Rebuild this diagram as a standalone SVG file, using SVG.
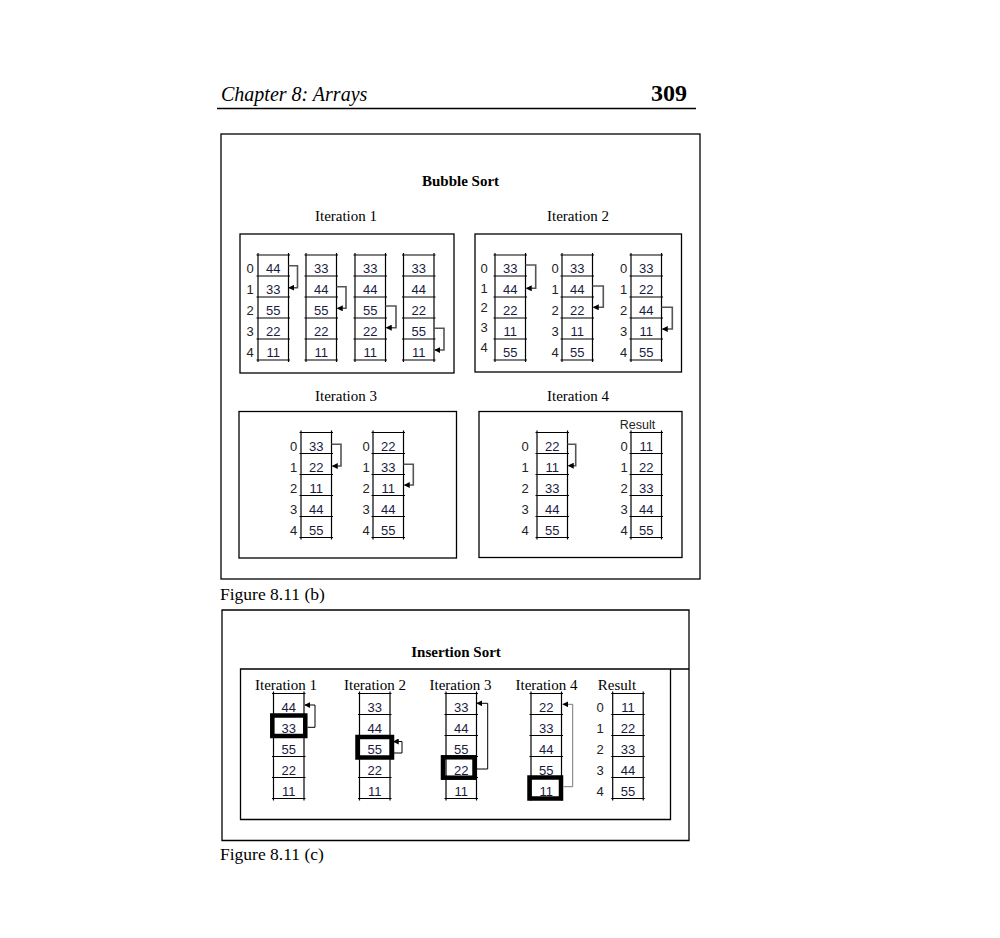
<svg xmlns="http://www.w3.org/2000/svg" xmlns:xlink="http://www.w3.org/1999/xlink" width="1000" height="938" viewBox="0 0 1000 938">
<style>
.box{fill:none;stroke:#000;stroke-width:1.3}
.gl{stroke:#000;stroke-width:1.2}
.v{font-family:"Liberation Sans",Arial,sans-serif;font-size:13px;text-anchor:middle;fill:#1a1a40}
.i{font-family:"Liberation Sans",Arial,sans-serif;font-size:13px;text-anchor:middle;fill:#222}
.t{font-family:"Liberation Serif","Times New Roman",serif;font-size:15px;text-anchor:middle;fill:#000}
.tb{font-family:"Liberation Serif","Times New Roman",serif;font-size:15px;font-weight:bold;text-anchor:middle;fill:#000}
.cap{font-family:"Liberation Serif","Times New Roman",serif;font-size:17.5px;fill:#000}
.arr{fill:none;stroke:#555;stroke-width:1.6;marker-end:url(#ah)}
.arr2{fill:none;stroke:#000;stroke-width:1;marker-end:url(#ah)}
.arr3{fill:none;stroke:#777;stroke-width:1;marker-end:url(#ah)}
.thick{fill:none;stroke:#000;stroke-width:4.5}
</style>
<defs>
<marker id="ah" viewBox="0 0 8 8" refX="7" refY="4" markerWidth="6" markerHeight="6" markerUnits="userSpaceOnUse" orient="auto"><path d="M0,0 L8,4 L0,8 z" fill="#000"/></marker>
<g id="g5" class="gl">
<line x1="0" y1="-2" x2="0" y2="107"/><line x1="30.5" y1="-2" x2="30.5" y2="107"/>
<line x1="-1.5" y1="0" x2="32" y2="0"/><line x1="-1.5" y1="21" x2="32" y2="21"/><line x1="-1.5" y1="42" x2="32" y2="42"/><line x1="-1.5" y1="63" x2="32" y2="63"/><line x1="-1.5" y1="84" x2="32" y2="84"/><line x1="-1.5" y1="105" x2="32" y2="105"/>
</g>
</defs>
<rect width="1000" height="938" fill="#fff"/>

<g id="header">
<text x="221" y="101" style="font-family:'Liberation Serif','Times New Roman',serif;font-size:20px;font-style:italic">Chapter 8: Arrays</text>
<text x="687" y="101" style="font-family:'Liberation Serif','Times New Roman',serif;font-size:24px;font-weight:bold;text-anchor:end">309</text>
<line x1="217" y1="108.5" x2="696" y2="108.5" stroke="#000" stroke-width="1.5"/>
</g>

<g id="bubble-frame">
<rect class="box" x="221" y="134" width="479" height="445"/>
<text class="tb" x="460.5" y="186">Bubble Sort</text>
<text class="t" x="346" y="221">Iteration 1</text>
<text class="t" x="578" y="221">Iteration 2</text>
<text class="t" x="346" y="401">Iteration 3</text>
<text class="t" x="578" y="401">Iteration 4</text>
<rect class="box" x="240" y="234" width="214" height="139"/>
<rect class="box" x="475" y="234" width="206.5" height="138"/>
<rect class="box" x="239" y="411.5" width="217.5" height="146.5"/>
<rect class="box" x="479" y="411.5" width="203" height="146"/>
</g>

<g id="b1a1">
<use href="#g5" x="258" y="255"/>
<text class="i" x="250" y="273">0</text><text class="i" x="250" y="294">1</text><text class="i" x="250" y="315">2</text><text class="i" x="250" y="336">3</text><text class="i" x="250" y="357">4</text>
<text class="v" x="273.2" y="273">44</text><text class="v" x="273.2" y="294">33</text><text class="v" x="273.2" y="315">55</text><text class="v" x="273.2" y="336">22</text><text class="v" x="273.2" y="357">11</text>
</g>
<g id="b1a2">
<use href="#g5" x="306" y="255"/>
<text class="v" x="321.2" y="273">33</text><text class="v" x="321.2" y="294">44</text><text class="v" x="321.2" y="315">55</text><text class="v" x="321.2" y="336">22</text><text class="v" x="321.2" y="357">11</text>
</g>
<g id="b1a3">
<use href="#g5" x="355" y="255"/>
<text class="v" x="370.2" y="273">33</text><text class="v" x="370.2" y="294">44</text><text class="v" x="370.2" y="315">55</text><text class="v" x="370.2" y="336">22</text><text class="v" x="370.2" y="357">11</text>
</g>
<g id="b1a4">
<use href="#g5" x="403.5" y="255"/>
<text class="v" x="418.7" y="273">33</text><text class="v" x="418.7" y="294">44</text><text class="v" x="418.7" y="315">22</text><text class="v" x="418.7" y="336">55</text><text class="v" x="418.7" y="357">11</text>
</g>

<g id="b2a1">
<use href="#g5" x="495" y="255"/>
<text class="i" x="484" y="273">0</text><text class="i" x="484" y="293">1</text><text class="i" x="484" y="312">2</text><text class="i" x="484" y="332">3</text><text class="i" x="484" y="352">4</text>
<text class="v" x="510.2" y="273">33</text><text class="v" x="510.2" y="294">44</text><text class="v" x="510.2" y="315">22</text><text class="v" x="510.2" y="336">11</text><text class="v" x="510.2" y="357">55</text>
</g>
<g id="b2a2">
<use href="#g5" x="562" y="255"/>
<text class="i" x="555" y="273">0</text><text class="i" x="555" y="294">1</text><text class="i" x="555" y="315">2</text><text class="i" x="555" y="336">3</text><text class="i" x="555" y="357">4</text>
<text class="v" x="577.2" y="273">33</text><text class="v" x="577.2" y="294">44</text><text class="v" x="577.2" y="315">22</text><text class="v" x="577.2" y="336">11</text><text class="v" x="577.2" y="357">55</text>
</g>
<g id="b2a3">
<use href="#g5" x="631" y="255"/>
<text class="i" x="623.5" y="273">0</text><text class="i" x="623.5" y="294">1</text><text class="i" x="623.5" y="315">2</text><text class="i" x="623.5" y="336">3</text><text class="i" x="623.5" y="357">4</text>
<text class="v" x="646.2" y="273">33</text><text class="v" x="646.2" y="294">22</text><text class="v" x="646.2" y="315">44</text><text class="v" x="646.2" y="336">11</text><text class="v" x="646.2" y="357">55</text>
</g>

<g id="b3a1">
<use href="#g5" x="301" y="432.5"/>
<text class="i" x="293.5" y="450.5">0</text><text class="i" x="293.5" y="471.5">1</text><text class="i" x="293.5" y="492.5">2</text><text class="i" x="293.5" y="513.5">3</text><text class="i" x="293.5" y="534.5">4</text>
<text class="v" x="316.2" y="450.5">33</text><text class="v" x="316.2" y="471.5">22</text><text class="v" x="316.2" y="492.5">11</text><text class="v" x="316.2" y="513.5">44</text><text class="v" x="316.2" y="534.5">55</text>
</g>
<g id="b3a2">
<use href="#g5" x="373" y="432.5"/>
<text class="i" x="366" y="450.5">0</text><text class="i" x="366" y="471.5">1</text><text class="i" x="366" y="492.5">2</text><text class="i" x="366" y="513.5">3</text><text class="i" x="366" y="534.5">4</text>
<text class="v" x="388.2" y="450.5">22</text><text class="v" x="388.2" y="471.5">33</text><text class="v" x="388.2" y="492.5">11</text><text class="v" x="388.2" y="513.5">44</text><text class="v" x="388.2" y="534.5">55</text>
</g>

<g id="b4a1">
<use href="#g5" x="537" y="432.5"/>
<text class="i" x="525" y="450.5">0</text><text class="i" x="525" y="471.5">1</text><text class="i" x="525" y="492.5">2</text><text class="i" x="525" y="513.5">3</text><text class="i" x="525" y="534.5">4</text>
<text class="v" x="552.2" y="450.5">22</text><text class="v" x="552.2" y="471.5">11</text><text class="v" x="552.2" y="492.5">33</text><text class="v" x="552.2" y="513.5">44</text><text class="v" x="552.2" y="534.5">55</text>
</g>
<g id="b4res">
<text x="637.5" y="428.5" style="font-family:'Liberation Sans',Arial,sans-serif;font-size:12.5px;text-anchor:middle;fill:#222">Result</text>
<use href="#g5" x="631" y="432.5"/>
<text class="i" x="624" y="450.5">0</text><text class="i" x="624" y="471.5">1</text><text class="i" x="624" y="492.5">2</text><text class="i" x="624" y="513.5">3</text><text class="i" x="624" y="534.5">4</text>
<text class="v" x="646.2" y="450.5">11</text><text class="v" x="646.2" y="471.5">22</text><text class="v" x="646.2" y="492.5">33</text><text class="v" x="646.2" y="513.5">44</text><text class="v" x="646.2" y="534.5">55</text>
</g>

<text class="cap" x="220" y="600">Figure 8.11 (b)</text>

<g id="insertion-frame">
<polyline fill="none" stroke="#000" stroke-width="1.3" points="689,798 689,610 222,610 222,840.5 689,840.5 689,798"/>
<text class="tb" x="456" y="657">Insertion Sort</text>
<polyline fill="none" stroke="#000" stroke-width="1.3" points="670.5,669 240.5,669 240.5,819.5 670.5,819.5 670.5,669 689,669"/>
<text class="t" x="286" y="690">Iteration 1</text>
<text class="t" x="375" y="690">Iteration 2</text>
<text class="t" x="460.5" y="690">Iteration 3</text>
<text class="t" x="546.5" y="690">Iteration 4</text>
<text class="t" x="617" y="690">Result</text>
</g>

<g id="i1">
<use href="#g5" x="273.5" y="693.5"/>
<rect class="thick" x="272.3" y="715.5" width="33" height="20.5"/>
<text class="v" x="288.7" y="711.5">44</text><text class="v" x="288.7" y="732.5">33</text><text class="v" x="288.7" y="753.5">55</text><text class="v" x="288.7" y="774.5">22</text><text class="v" x="288.7" y="795.5">11</text>
</g>
<g id="i2">
<use href="#g5" x="359.5" y="693.5"/>
<rect class="thick" x="357.5" y="737" width="34.5" height="20.5"/>
<text class="v" x="374.7" y="711.5">33</text><text class="v" x="374.7" y="732.5">44</text><text class="v" x="374.7" y="753.5">55</text><text class="v" x="374.7" y="774.5">22</text><text class="v" x="374.7" y="795.5">11</text>
</g>
<g id="i3">
<use href="#g5" x="446" y="693.5"/>
<rect class="thick" x="443" y="757.3" width="31.5" height="20.4"/>
<text class="v" x="461.2" y="711.5">33</text><text class="v" x="461.2" y="732.5">44</text><text class="v" x="461.2" y="753.5">55</text><text class="v" x="461.2" y="774.5">22</text><text class="v" x="461.2" y="795.5">11</text>
</g>
<g id="i4">
<use href="#g5" x="531" y="693.5"/>
<rect class="thick" x="529.5" y="777.5" width="31.5" height="21"/>
<text class="v" x="546.2" y="711.5">22</text><text class="v" x="546.2" y="732.5">33</text><text class="v" x="546.2" y="753.5">44</text><text class="v" x="546.2" y="774.5">55</text><text class="v" x="546.2" y="795.5">11</text>
</g>
<g id="ires">
<use href="#g5" x="612.7" y="693.5"/>
<text class="i" x="600" y="711.5">0</text><text class="i" x="600" y="732.5">1</text><text class="i" x="600" y="753.5">2</text><text class="i" x="600" y="774.5">3</text><text class="i" x="600" y="795.5">4</text>
<text class="v" x="628" y="711.5">11</text><text class="v" x="628" y="732.5">22</text><text class="v" x="628" y="753.5">33</text><text class="v" x="628" y="774.5">44</text><text class="v" x="628" y="795.5">55</text>
</g>

<text class="cap" x="220" y="860">Figure 8.11 (c)</text>

<g id="connectors">
<polyline class="arr" points="288.5,265.7 297.5,265.7 297.5,287.7 289,287.7"/>
<polyline class="arr" points="336.5,286.7 346,286.7 346,308.3 337.5,308.3"/>
<polyline class="arr" points="385.5,306 396,306 396,327.7 386.5,327.7"/>
<polyline class="arr" points="434,328.3 444,328.3 444,350 435,350"/>
<polyline class="arr" points="525.5,265 535.7,265 535.7,288.3 526.5,288.3"/>
<polyline class="arr" points="592.5,286 603.3,286 603.3,307.3 593.5,307.3"/>
<polyline class="arr" points="661.5,307.3 672.3,307.3 672.3,329 662.5,329"/>
<polyline class="arr" points="331.5,444.3 341,444.3 341,466 332.5,466"/>
<polyline class="arr" points="403.5,464.3 413.3,464.3 413.3,485 404.5,485"/>
<polyline class="arr" points="567.5,444.3 575.7,444.3 575.7,465.7 568.5,465.7"/>
<polyline class="arr2" points="307.5,727.3 315,727.3 315,705 305,705"/>
<polyline class="arr2" points="394,753 402,753 402,741.5 393.5,741.5"/>
<polyline class="arr2" points="477,769 487.7,769 487.7,703.3 477,703.3"/>
<polyline class="arr3" points="563.5,786.7 572.7,786.7 572.7,704.3 563,704.3"/>
</g>
</svg>
